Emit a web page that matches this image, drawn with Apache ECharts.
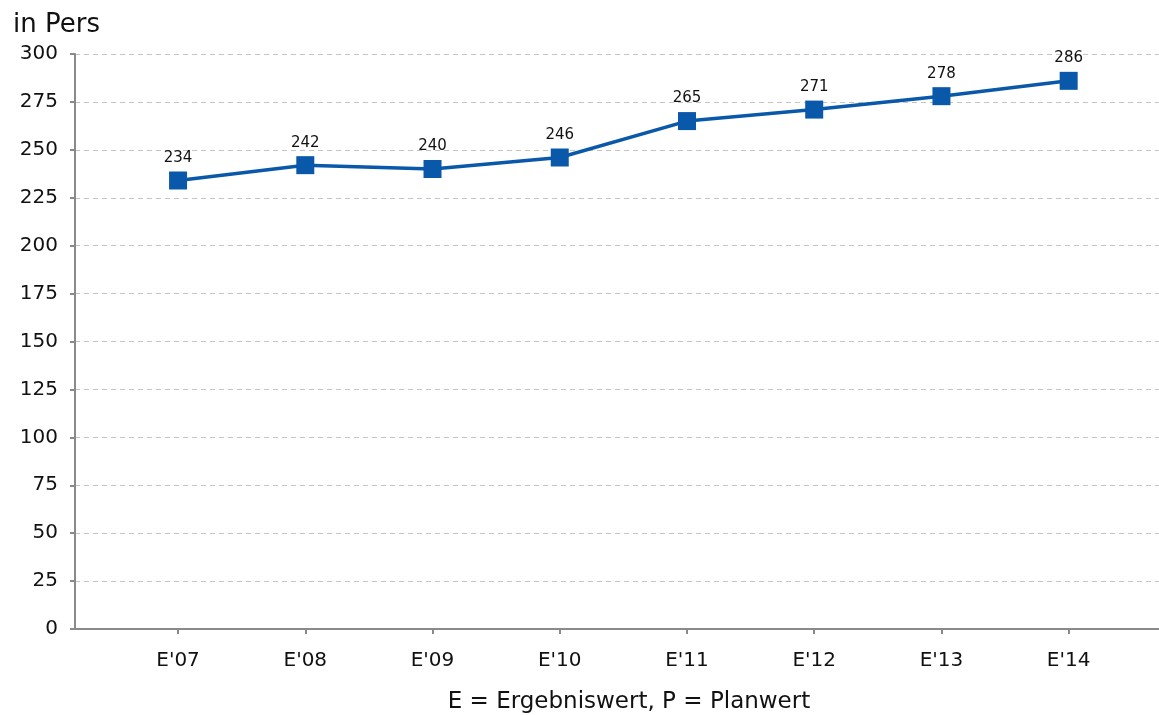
<!DOCTYPE html>
<html>
<head>
<meta charset="utf-8">
<script src="https://cdn.jsdelivr.net/npm/echarts@6/dist/echarts.min.js"></script>
<style>
  html, body { margin: 0; padding: 0; background: #fff; }
  #chart { width: 1159px; height: 715px; }
</style>
</head>
<body>
<div id="chart"></div>
<script>
const categories = ["E'07", "E'08", "E'09", "E'10", "E'11", "E'12", "E'13", "E'14"];
const persValues = [234, 242, 240, 246, 265, 271, 278, 286];
const yTicks = [0, 25, 50, 75, 100, 125, 150, 175, 200, 225, 250, 275, 300];

const chart = echarts.init(document.getElementById('chart'));
const positions = categories.map((c, i) => i);

const option = {
  animation: false,
  textStyle: { fontFamily: 'DejaVu Sans, sans-serif' },
  title: [
    {
      text: 'in Pers',
      left: 8,
      top: 7,
      textStyle: { fontSize: 26, fontWeight: 'normal', color: '#111', fontFamily: 'DejaVu Sans' }
    },
    {
      text: 'E = Ergebniswert, P = Planwert',
      left: 624,
      textAlign: 'center',
      top: 686,
      textStyle: { fontSize: 23, fontWeight: 'normal', color: '#111', fontFamily: 'DejaVu Sans' }
    }
  ],
  grid: { left: 75, right: 0, top: 54, bottom: 86, containLabel: false },
  xAxis: {
    type: 'value',
    min: -0.81,
    max: 7.71,
    axisLine: { onZero: false, lineStyle: { color: '#8a8a8a', width: 2 } },
    axisTick: { show: true, customValues: positions, length: 5, lineStyle: { color: '#8a8a8a', width: 2 } },
    axisLabel: {
      customValues: positions,
      formatter: v => categories[Math.round(v)],
      fontSize: 20,
      color: '#111',
      margin: 22
    },
    splitLine: { show: false }
  },
  yAxis: {
    type: 'value',
    min: 0,
    max: 300,
    interval: 25,
    axisLine: { show: true, onZero: false, lineStyle: { color: '#8a8a8a', width: 2 } },
    axisTick: { show: true, length: 5, lineStyle: { color: '#8a8a8a', width: 2 } },
    axisLabel: {
      fontSize: 20,
      color: '#111',
      margin: 17,
      formatter: v => (yTicks.includes(v) ? String(v) : '')
    },
    splitLine: { lineStyle: { color: '#c4c4c4', type: [5, 4], width: 1 } }
  },
  series: [
    {
      type: 'line',
      data: persValues.map((v, i) => [positions[i], v]),
      symbol: 'rect',
      symbolSize: 18,
      itemStyle: { color: '#0a58aa', borderRadius: 2 },
      lineStyle: { color: '#0a58aa', width: 3.5 },
      label: {
        show: true,
        position: 'top',
        distance: 6,
        fontSize: 15,
        color: '#111',
        formatter: p => p.value[1]
      }
    }
  ]
};
chart.setOption(option);
</script>
</body>
</html>
